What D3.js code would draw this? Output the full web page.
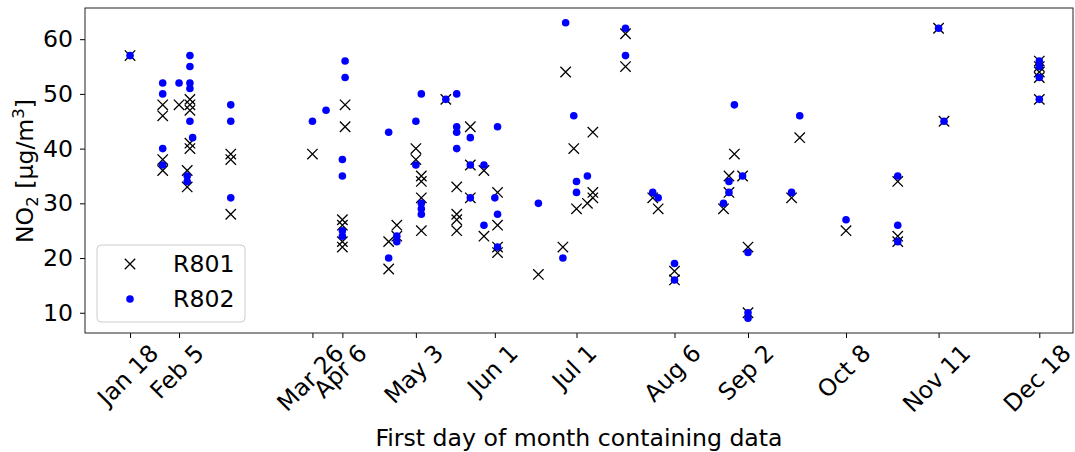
<!DOCTYPE html>
<html>
<head>
<meta charset="utf-8">
<script src="https://cdn.jsdelivr.net/npm/d3@7"></script>
<style>
  body { margin: 0; background: #fff; }
  text { font-family: "DejaVu Sans", sans-serif; fill: #000; }
</style>
</head>
<body>
<svg id="chart" width="1075" height="452"></svg>
<script>
// R801 measurements: [date, NO2]
const r801 = [
  ["2019-01-18", 57],
  ["2019-01-30", 48], ["2019-01-30", 46], ["2019-01-30", 38], ["2019-01-30", 36],
  ["2019-02-05", 48],
  ["2019-02-08", 36], ["2019-02-08", 33],
  ["2019-02-09", 49], ["2019-02-09", 48], ["2019-02-09", 47], ["2019-02-09", 41], ["2019-02-09", 40],
  ["2019-02-24", 39], ["2019-02-24", 38], ["2019-02-24", 28],
  ["2019-03-26", 39],
  ["2019-04-06", 27], ["2019-04-06", 26], ["2019-04-06", 23], ["2019-04-06", 22],
  ["2019-04-07", 48], ["2019-04-07", 44],
  ["2019-04-23", 23], ["2019-04-23", 18],
  ["2019-04-26", 26], ["2019-04-26", 24],
  ["2019-05-03", 40], ["2019-05-03", 38],
  ["2019-05-05", 35], ["2019-05-05", 34], ["2019-05-05", 31], ["2019-05-05", 25],
  ["2019-05-14", 49],
  ["2019-05-18", 33], ["2019-05-18", 28], ["2019-05-18", 27], ["2019-05-18", 25],
  ["2019-05-23", 44], ["2019-05-23", 37], ["2019-05-23", 31],
  ["2019-05-28", 36], ["2019-05-28", 24],
  ["2019-06-02", 32], ["2019-06-02", 26], ["2019-06-02", 22], ["2019-06-02", 21],
  ["2019-06-17", 17],
  ["2019-06-26", 22],
  ["2019-06-27", 54],
  ["2019-06-30", 40],
  ["2019-07-01", 29],
  ["2019-07-05", 30],
  ["2019-07-07", 43], ["2019-07-07", 32], ["2019-07-07", 31],
  ["2019-07-19", 61], ["2019-07-19", 55],
  ["2019-07-29", 31],
  ["2019-07-31", 29],
  ["2019-08-06", 17.6], ["2019-08-06", 16],
  ["2019-08-24", 29],
  ["2019-08-26", 35], ["2019-08-26", 32],
  ["2019-08-28", 39],
  ["2019-08-31", 35],
  ["2019-09-02", 22], ["2019-09-02", 10],
  ["2019-09-18", 31],
  ["2019-09-21", 42],
  ["2019-10-08", 25],
  ["2019-10-27", 34], ["2019-10-27", 24], ["2019-10-27", 23],
  ["2019-11-11", 62],
  ["2019-11-13", 45],
  ["2019-12-18", 56], ["2019-12-18", 55], ["2019-12-18", 54], ["2019-12-18", 53], ["2019-12-18", 49]
]

// R802 measurements: [date, NO2]
const r802 = [
  ["2019-01-18", 57],
  ["2019-01-30", 52], ["2019-01-30", 50], ["2019-01-30", 40], ["2019-01-30", 37],
  ["2019-02-05", 52],
  ["2019-02-08", 35], ["2019-02-08", 34],
  ["2019-02-09", 57], ["2019-02-09", 55], ["2019-02-09", 52], ["2019-02-09", 51], ["2019-02-09", 45],
  ["2019-02-10", 42],
  ["2019-02-24", 48], ["2019-02-24", 45], ["2019-02-24", 31],
  ["2019-03-26", 45],
  ["2019-03-31", 47],
  ["2019-04-06", 38], ["2019-04-06", 35], ["2019-04-06", 25], ["2019-04-06", 24],
  ["2019-04-07", 56], ["2019-04-07", 53],
  ["2019-04-23", 43], ["2019-04-23", 20],
  ["2019-04-26", 24], ["2019-04-26", 23],
  ["2019-05-03", 45], ["2019-05-03", 37],
  ["2019-05-05", 50], ["2019-05-05", 30], ["2019-05-05", 29], ["2019-05-05", 28],
  ["2019-05-14", 49],
  ["2019-05-18", 50], ["2019-05-18", 44], ["2019-05-18", 43], ["2019-05-18", 40],
  ["2019-05-23", 42], ["2019-05-23", 37], ["2019-05-23", 31],
  ["2019-05-28", 37], ["2019-05-28", 26],
  ["2019-06-01", 31],
  ["2019-06-02", 44], ["2019-06-02", 28], ["2019-06-02", 22],
  ["2019-06-17", 30],
  ["2019-06-26", 20],
  ["2019-06-27", 63],
  ["2019-06-30", 46],
  ["2019-07-01", 34], ["2019-07-01", 32],
  ["2019-07-05", 35],
  ["2019-07-19", 62], ["2019-07-19", 57],
  ["2019-07-29", 32],
  ["2019-07-31", 31],
  ["2019-08-06", 19], ["2019-08-06", 16],
  ["2019-08-24", 30],
  ["2019-08-26", 34], ["2019-08-26", 32],
  ["2019-08-28", 48],
  ["2019-08-31", 35],
  ["2019-09-02", 21], ["2019-09-02", 10], ["2019-09-02", 9],
  ["2019-09-18", 32],
  ["2019-09-21", 46],
  ["2019-10-08", 27],
  ["2019-10-27", 35], ["2019-10-27", 26], ["2019-10-27", 23],
  ["2019-11-11", 62],
  ["2019-11-13", 45],
  ["2019-12-18", 56], ["2019-12-18", 55], ["2019-12-18", 53], ["2019-12-18", 49]
]

const tickDates = ["2019-01-18", "2019-02-05", "2019-03-26", "2019-04-06", "2019-05-03", "2019-06-01",
  "2019-07-01", "2019-08-06", "2019-09-02", "2019-10-08", "2019-11-11", "2019-12-18"]
const yTicks = [10, 20, 30, 40, 50, 60]
const xDomain = ["2019-01-01T11:00", "2019-12-30T09:00"]
const yDomain = [6.3, 65.7]

const parseDay = d3.timeParse("%Y-%m-%d")
const parseTime = d3.timeParse("%Y-%m-%dT%H:%M")

const plotLeft = 85, plotRight = 1073, plotTop = 8, plotBottom = 333
const fontSize = "23.6px"

const svg = d3.select("#chart")

const x = d3.scaleTime()
  .domain(xDomain.map(parseTime))
  .range([plotLeft, plotRight])

const y = d3.scaleLinear()
  .domain(yDomain)
  .range([plotBottom, plotTop])

// y axis
const yAxis = d3.axisLeft(y).tickValues(yTicks).tickSize(5).tickPadding(7)
const gy = svg.append("g")
  .attr("transform", "translate(" + plotLeft + ",0)")
  .call(yAxis)
gy.select(".domain").remove()
gy.selectAll(".tick line").attr("stroke", "#000").attr("stroke-width", 1)
gy.selectAll(".tick text")
  .style("font-family", "DejaVu Sans")
  .style("font-size", fontSize)
  .attr("fill", "#000")

// x axis, labels rotated 45deg and centred on the tick
const xAxis = d3.axisBottom(x)
  .tickValues(tickDates.map(parseDay))
  .tickFormat(d3.timeFormat("%b %-d"))
  .tickSize(5)
const gx = svg.append("g")
  .attr("transform", "translate(0," + plotBottom + ")")
  .call(xAxis)
gx.select(".domain").remove()
gx.selectAll(".tick line").attr("stroke", "#000").attr("stroke-width", 1)
gx.selectAll(".tick text")
  .style("font-family", "DejaVu Sans")
  .style("font-size", fontSize)
  .attr("fill", "#000")
  .attr("text-anchor", "middle")
  .attr("dy", null)
  .attr("dominant-baseline", "central")
  .each(function () {
    const w = this.getComputedTextLength()
    const h = 17
    const off = 10 + (w + h) / (2 * Math.SQRT2)
    d3.select(this).attr("y", null).attr("transform", "translate(-2.5," + off + ") rotate(-45)")
  })

// frame
svg.append("rect")
  .attr("x", plotLeft)
  .attr("y", plotTop)
  .attr("width", plotRight - plotLeft)
  .attr("height", plotBottom - plotTop)
  .attr("fill", "none")
  .attr("stroke", "#222")
  .attr("stroke-width", 1)

const xMark = (s) => "M" + (-s) + "," + (-s) + "L" + s + "," + s + "M" + (-s) + "," + s + "L" + s + "," + (-s)

// R801 crosses
svg.append("g")
  .selectAll("path")
  .data(r801)
  .enter()
  .append("path")
  .attr("transform", (d) => "translate(" + x(parseDay(d[0])) + "," + y(d[1]) + ")")
  .attr("d", xMark(5.2))
  .attr("stroke", "#000")
  .attr("stroke-width", 1.3)
  .attr("fill", "none")

// R802 dots
svg.append("g")
  .selectAll("circle")
  .data(r802)
  .enter()
  .append("circle")
  .attr("cx", (d) => x(parseDay(d[0])))
  .attr("cy", (d) => y(d[1]))
  .attr("r", 3.8)
  .attr("fill", "#0000ff")

// legend
const lg = svg.append("g")
lg.append("rect")
  .attr("x", 97).attr("y", 245)
  .attr("width", 148).attr("height", 77)
  .attr("rx", 4)
  .attr("fill", "#fff").attr("fill-opacity", 0.8)
  .attr("stroke", "#ccc")
lg.append("path")
  .attr("transform", "translate(130,264)")
  .attr("d", xMark(5.2))
  .attr("stroke", "#000").attr("stroke-width", 1.3)
lg.append("circle").attr("cx", 130).attr("cy", 299).attr("r", 3.8).attr("fill", "#0000ff")
lg.append("text").attr("x", 173).attr("y", 264).attr("dominant-baseline", "central")
  .style("font-size", fontSize).text("R801")
lg.append("text").attr("x", 173).attr("y", 299).attr("dominant-baseline", "central")
  .style("font-size", fontSize).text("R802")

// axis labels
svg.append("text")
  .attr("x", (plotLeft + plotRight) / 2)
  .attr("y", 446)
  .attr("text-anchor", "middle")
  .style("font-size", fontSize)
  .text("First day of month containing data")

const yl = svg.append("text")
  .attr("transform", "translate(33,171) rotate(-90)")
  .attr("text-anchor", "middle")
  .style("font-size", fontSize)
yl.append("tspan").text("NO")
yl.append("tspan").attr("dy", 5).style("font-size", "16.5px").text("2")
yl.append("tspan").attr("dy", -5).text(" [µg/m")
yl.append("tspan").attr("dy", -9).style("font-size", "16.5px").text("3")
yl.append("tspan").attr("dy", 9).text("]")
</script>
</body>
</html>
